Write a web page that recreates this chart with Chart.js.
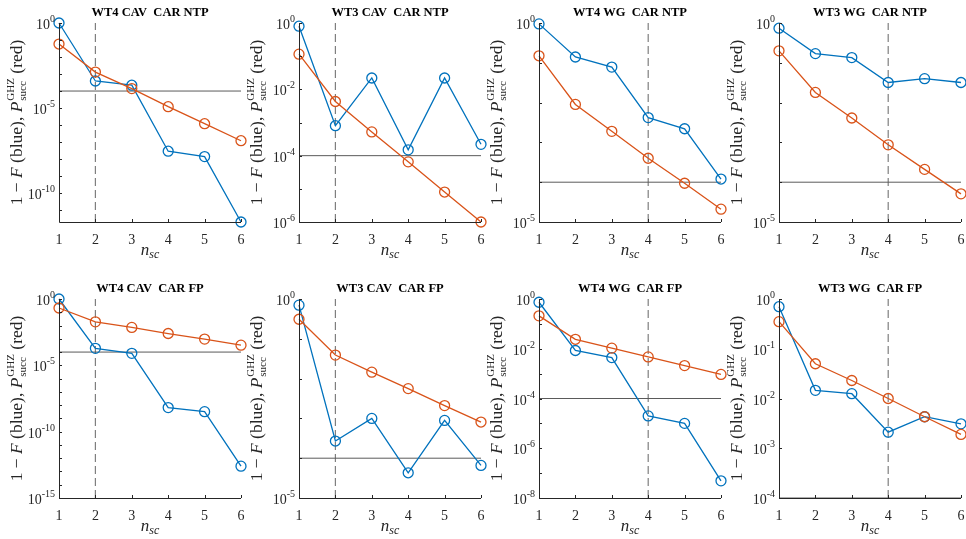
<!DOCTYPE html>
<html>
<head>
<meta charset="utf-8">
<script src="https://cdn.jsdelivr.net/npm/chart.js@4.4.1/dist/chart.umd.min.js"></script>
<style>
  body { margin: 0; width: 966px; height: 539px; background: #fff; position: relative; overflow: hidden; }
  canvas { position: absolute; }
</style>
</head>
<body>
<script>
// n_sc values on the x axis
const nsc = [1, 2, 3, 4, 5, 6];

const titles = ['WT4 CAV  CAR NTP', 'WT3 CAV  CAR NTP', 'WT4 WG  CAR NTP', 'WT3 WG  CAR NTP',
                'WT4 CAV  CAR FP', 'WT3 CAV  CAR FP', 'WT4 WG  CAR FP', 'WT3 WG  CAR FP'];

// 1 - F (blue) per panel
const blueWT4CavNtp = [1, 3.9e-4, 2.2e-4, 2.9e-8, 1.4e-8, 2e-12];
const blueWT3CavNtp = [0.8, 8e-4, 2.2e-2, 1.5e-4, 2.2e-2, 2.2e-4];
const blueWT4WgNtp  = [0.95, 0.14, 0.078, 4.2e-3, 2.2e-3, 1.2e-4];
const blueWT3WgNtp  = [0.74, 0.17, 0.135, 0.032, 0.04, 0.032];
const blueWT4CavFp  = [1, 1.9e-4, 8e-5, 6.5e-9, 3.2e-9, 2.5e-13];
const blueWT3CavFp  = [0.7, 2.7e-4, 1e-3, 4.3e-5, 8.9e-4, 6.6e-5];
const blueWT4WgFp   = [0.74, 8.5e-3, 4.4e-3, 2e-5, 1e-5, 4.9e-8];
const blueWT3WgFp   = [0.7, 0.0146, 0.0125, 2.1e-3, 4.3e-3, 3.1e-3];

// P_succ^GHZ (red) per panel
const redWT4CavNtp = [5.8e-2, 1.3e-3, 1.4e-4, 1.2e-5, 1.2e-6, 1.2e-7];
const redWT3CavNtp = [0.115, 4.3e-3, 5.2e-4, 6.5e-5, 8e-6, 1e-6];
const redWT4WgNtp  = [0.15, 9e-3, 1.9e-3, 4e-4, 9.4e-5, 2.1e-5];
const redWT3WgNtp  = [0.2, 0.018, 4.1e-3, 8.7e-4, 2.1e-4, 5.1e-5];
const redWT4CavFp  = [0.21, 0.019, 7.2e-3, 2.5e-3, 9.5e-4, 3.3e-4];
const redWT3CavFp  = [0.31, 0.039, 0.0145, 5.6e-3, 2.1e-3, 8.1e-4];
const redWT4WgFp   = [0.21, 0.024, 0.0106, 4.7e-3, 2.1e-3, 9.3e-4];
const redWT3WgFp   = [0.35, 0.05, 0.023, 0.01, 4.3e-3, 1.9e-3];

const blueSets = [blueWT4CavNtp, blueWT3CavNtp, blueWT4WgNtp, blueWT3WgNtp, blueWT4CavFp, blueWT3CavFp, blueWT4WgFp, blueWT3WgFp];
const redSets = [redWT4CavNtp, redWT3CavNtp, redWT4WgNtp, redWT3WgNtp, redWT4CavFp, redWT3CavFp, redWT4WgFp, redWT3WgFp];

// y axis limits and labelled decades
const yMins = [2e-12, 1e-6, 1e-5, 1e-5, 1e-15, 1e-5, 1e-8, 1e-4];
const yMaxs = [1, 1, 1, 1, 1, 1, 1, 1];
const tickExps = [[0, -5, -10], [0, -2, -4, -6], [0, -5], [0, -5], [0, -5, -10, -15], [0, -5], [0, -2, -4, -6, -8], [0, -1, -2, -3, -4]];

// dashed marker position and the threshold
const dashedAt = [2, 2, 4, 4, 2, 2, 4, 4];
const threshold = 1e-4;

const serif = '"Liberation Serif", "DejaVu Serif", serif';
const axisCol = '#262626';

const decor = {
  id: 'decor',
  afterDraw(chart, args, o) {
    const ctx = chart.ctx, a = chart.chartArea, y = chart.scales.y, x = chart.scales.x;
    ctx.save();
    // axes lines
    ctx.strokeStyle = axisCol;
    ctx.lineWidth = 1;
    ctx.beginPath();
    ctx.moveTo(a.left + 0.5, a.top);
    ctx.lineTo(a.left + 0.5, a.bottom + 0.5);
    ctx.lineTo(a.right, a.bottom + 0.5);
    ctx.stroke();
    // inward ticks
    ctx.beginPath();
    for (let e = Math.ceil(Math.log10(y.min) - 1e-9); e <= 0; e++) {
      const py = Math.round(y.getPixelForValue(Math.pow(10, e))) + 0.5;
      ctx.moveTo(a.left, py); ctx.lineTo(a.left + 3, py);
    }
    for (const v of nsc) {
      const px = Math.round(x.getPixelForValue(v)) + 0.5;
      ctx.moveTo(px, a.bottom); ctx.lineTo(px, a.bottom - 3);
    }
    ctx.stroke();

    // y tick labels 10^e
    ctx.fillStyle = axisCol;
    ctx.textAlign = 'left';
    ctx.textBaseline = 'alphabetic';
    for (const e of o.exps) {
      const py = y.getPixelForValue(Math.pow(10, e));
      const sup = e === 0 ? '0' : '-' + (-e);
      ctx.font = '10px ' + serif;
      const sw = ctx.measureText(sup).width;
      ctx.font = '14px ' + serif;
      const bw = ctx.measureText('10').width;
      const right = a.left - 4;
      ctx.fillText('10', right - sw - bw, py + 6);
      ctx.font = '10px ' + serif;
      ctx.fillText(sup, right - sw, py - 1);
    }

    // title
    ctx.fillStyle = '#000';
    ctx.font = 'bold 12.5px ' + serif;
    ctx.textAlign = 'center';
    ctx.fillText(o.title, (a.left + a.right) / 2, 16);

    // x title n_sc
    ctx.fillStyle = axisCol;
    ctx.textAlign = 'left';
    ctx.font = 'italic 17px ' + serif;
    const nw = ctx.measureText('n').width;
    ctx.font = 'italic 12px ' + serif;
    const scw = ctx.measureText('sc').width;
    const cx = (a.left + a.right) / 2 - (nw + scw) / 2;
    ctx.font = 'italic 17px ' + serif;
    ctx.fillText('n', cx, 255);
    ctx.font = 'italic 12px ' + serif;
    ctx.fillText('sc', cx + nw, 258);

    // y title
    ctx.translate(a.left - 37, (a.top + a.bottom) / 2);
    ctx.rotate(-Math.PI / 2);
    const parts = [
      { t: '1 \u2212 ', f: '17.5px ' + serif },
      { t: 'F', f: 'italic 17.5px ' + serif },
      { t: ' (blue), ', f: '17.5px ' + serif },
      { t: 'P', f: 'italic 17.5px ' + serif },
      { sup: 'GHZ', sub: 'succ', f: '11px ' + serif },
      { t: ' (red)', f: '17.5px ' + serif }
    ];
    let total = 0;
    for (const p of parts) {
      ctx.font = p.f;
      p.w = p.t !== undefined ? ctx.measureText(p.t).width
                              : Math.max(ctx.measureText(p.sup).width, ctx.measureText(p.sub).width) + 1;
      total += p.w;
    }
    let px = -total / 2;
    for (const p of parts) {
      ctx.font = p.f;
      if (p.t !== undefined) {
        ctx.fillText(p.t, px, 0);
      } else {
        ctx.fillText(p.sup, px + 1, -8);
        ctx.fillText(p.sub, px + 1, 4);
      }
      px += p.w;
    }
    ctx.restore();
  }
};

const W = 250, H = 263;
for (let i = 0; i < 8; i++) {
  const col = i % 4, row = Math.floor(i / 4);
  const cv = document.createElement('canvas');
  cv.width = W; cv.height = H;
  cv.style.left = (col * 240) + 'px';
  cv.style.top = (row * 276) + 'px';
  document.body.appendChild(cv);

  const pts = arr => arr.map((v, k) => ({ x: nsc[k], y: v }));

  new Chart(cv, {
    type: 'line',
    data: {
      datasets: [
        {
          data: pts(redSets[i]),
          borderColor: '#D95319', borderWidth: 1.3,
          pointRadius: 5, pointHoverRadius: 5, pointBorderWidth: 1.3,
          pointBackgroundColor: 'rgba(0,0,0,0)', pointBorderColor: '#D95319',
          clip: false, order: 0
        },
        {
          data: pts(blueSets[i]),
          borderColor: '#0072BD', borderWidth: 1.3,
          pointRadius: 5, pointHoverRadius: 5, pointBorderWidth: 1.3,
          pointBackgroundColor: 'rgba(0,0,0,0)', pointBorderColor: '#0072BD',
          clip: false, order: 1
        },
        {
          data: [{ x: nsc[0], y: threshold }, { x: nsc[nsc.length - 1], y: threshold }],
          borderColor: '#5a5a5a', borderWidth: 1, pointRadius: 0, order: 2
        },
        {
          data: [{ x: dashedAt[i], y: yMins[i] }, { x: dashedAt[i], y: yMaxs[i] }],
          borderColor: '#7f7f7f', borderWidth: 1.2, borderDash: [8, 4], pointRadius: 0, order: 3
        }
      ]
    },
    options: {
      responsive: false,
      animation: false,
      devicePixelRatio: 1,
      layout: { padding: { left: 0, right: W - 241, top: 23, bottom: 0 } },
      plugins: {
        legend: { display: false },
        tooltip: { enabled: false },
        decor: { title: titles[i], exps: tickExps[i] }
      },
      scales: {
        x: {
          type: 'linear', min: 1, max: 6,
          grid: { display: false }, border: { display: false },
          ticks: { stepSize: 1, color: axisCol, font: { family: serif, size: 14 }, padding: 2, maxRotation: 0 },
          afterFit: s => { s.height = 41; }
        },
        y: {
          type: 'logarithmic', min: yMins[i], max: yMaxs[i],
          grid: { display: false }, border: { display: false },
          ticks: { display: false },
          afterFit: s => { s.width = 59; }
        }
      }
    },
    plugins: [decor]
  });
}
</script>
</body>
</html>
